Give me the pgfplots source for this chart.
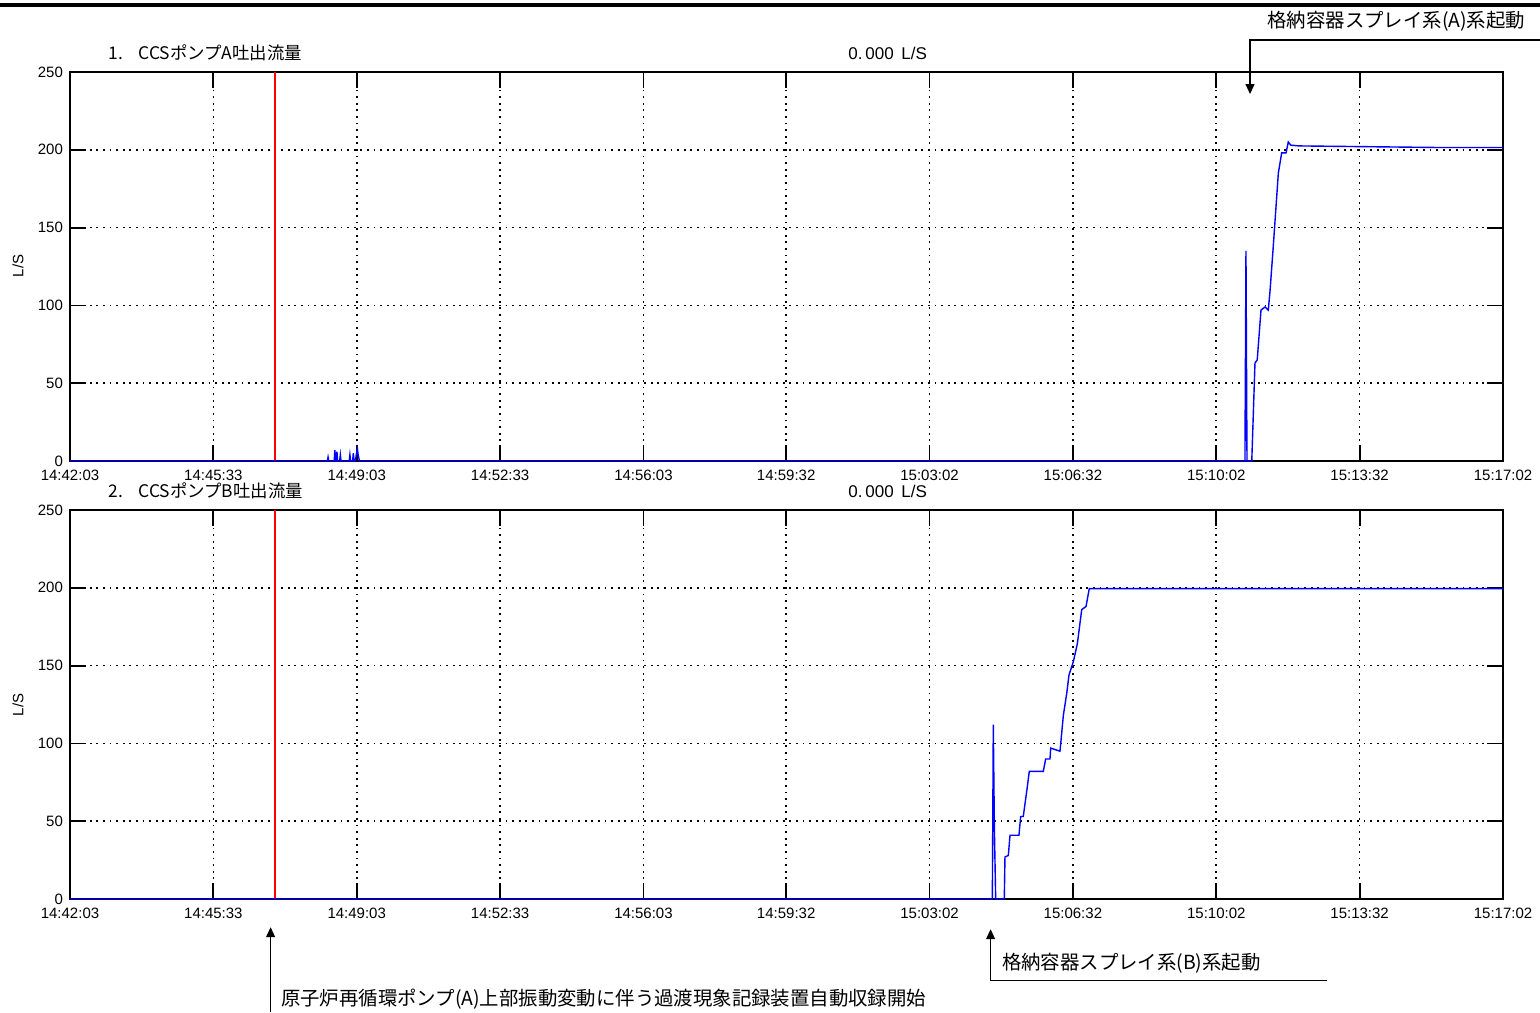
\documentclass[border=0pt]{standalone}
\usepackage{pgfplots}
\pgfplotsset{compat=1.18}
\usepackage{fontspec}
\setmainfont{Liberation Sans}
\newfontfamily\jp{Noto Sans CJK JP}
\usetikzlibrary{arrows.meta}

% time axis: seconds after 14:42:03
\pgfplotsset{
  flowaxis/.style={
    scale only axis, width=716.5pt, height=194.5pt,
    anchor=south west,
    xmin=0, xmax=2099, ymin=0, ymax=250,
    xtick={0,210,420,630,840,1049,1259,1469,1679,1889,2099},
    xticklabels={14:42:03,14:45:33,14:49:03,14:52:33,14:56:03,14:59:32,15:03:02,15:06:32,15:10:02,15:13:32,15:17:02},
    ytick={0,50,100,150,200,250},
    tick align=inside, major tick length=8pt,
    grid=major,
    major grid style={black, line width=0.85pt, dash pattern=on 0.9pt off 2.4pt},
    axis line style={line width=0.9pt},
    tick style={black, line width=0.9pt},
    tick label style={font=\fontsize{7.5}{8}\selectfont},
    xticklabel style={yshift=-1.2pt},
    /pgf/number format/assume math mode=true,
    clip=false,
  }
}

\begin{document}
\begin{tikzpicture}
\useasboundingbox (0,0) rectangle (770pt,-506pt);

% ---- 1. pump A
\begin{axis}[flowaxis, at={(35pt,-230.5pt)}]
\addplot[red, line width=0.7pt] coordinates {(300,0)(300,250)};
\addplot[blue, line width=0.7pt] coordinates {
 (0,0)(377,0)(378,2.5)(379,0)(387,0)(388,7)(389,0)(390,0)(391,6)(392,0)
 (395,0)(396,4)(397,0)(409,0)(410,4)(411,0)(414,0)(415,5)(416,0)
 (418,0)(419,3)(420,6)(421,8)(422,4)(423,2)(424,0)
 (1721,0)(1722.5,135)(1724,0)(1731,0)(1735.7,63)(1739,65)(1744.5,97)
 (1750.4,99)(1755.2,97)(1757.7,109)(1762.5,138)(1769.9,185)(1774.8,198)
 (1781.2,198)(1784.5,205)(1788,203)(1800,202.5)(1900,202)(2000,201.5)
 (2080,201.5)(2099,201.5)
};
\end{axis}

% ---- 2. pump B
\begin{axis}[flowaxis, at={(35pt,-449.5pt)}]
\addplot[red, line width=0.7pt] coordinates {(300,0)(300,250)};
\addplot[blue, line width=0.7pt] coordinates {
 (0,0)(1351,0)(1352.4,112)(1354,45)(1355.9,0)(1368.5,0)(1369.5,27)
 (1374.4,28)(1376.9,41)(1390,41)(1392.5,53)(1396.3,53)(1402.2,72)
 (1405.1,82)(1425.6,82)(1429.1,90)(1435.4,90)(1436.5,97)(1450.1,95)
 (1455,118)(1459.9,132)(1463.3,144)(1469.6,152.5)(1475.5,164)
 (1481.9,186)(1488.2,188)(1493,199.5)(2099,199.5)
};
\end{axis}

% titles and y labels
\tikzset{lbl/.style={anchor=base west, inner sep=0pt}}
\node[lbl, font=\jp\fontsize{8.7}{10}\selectfont] at (54pt,-29.5pt) {1.\hspace{0.9em}CCSポンプA吐出流量};
\node[lbl, font=\fontsize{8.5}{9}\selectfont] at (424pt,-29.5pt) {0.\,000\, L/S};
\node[lbl, font=\jp\fontsize{8.7}{10}\selectfont] at (54pt,-248.5pt) {2.\hspace{0.9em}CCSポンプB吐出流量};
\node[lbl, font=\fontsize{8.5}{9}\selectfont] at (424pt,-248.5pt) {0.\,000\, L/S};
\node[rotate=90, font=\fontsize{7.5}{8}\selectfont] at (9pt,-133pt) {L/S};
\node[rotate=90, font=\fontsize{7.5}{8}\selectfont] at (9pt,-352.5pt) {L/S};

% annotations
\tikzset{ann/.style={anchor=west, inner sep=0pt, font=\jp\fontsize{9.7}{10}\selectfont}}
\draw[line width=1.7pt] (0,-2.5pt) -- (770pt,-2.5pt);
\node[ann] at (633.5pt,-10.8pt) {格納容器スプレイ系(A)系起動};
\draw[line width=0.6pt, -{Triangle[length=5pt,width=4.5pt]}] (770pt,-20pt) -- (625pt,-20pt) -- (625pt,-47pt);

\node[ann] at (500.8pt,-481.6pt) {格納容器スプレイ系(B)系起動};
\draw[line width=0.6pt, -{Triangle[length=5pt,width=4.5pt]}] (663.5pt,-490.3pt) -- (495.3pt,-490.3pt) -- (495.3pt,-464.6pt);

\node[ann] at (140.3pt,-499.5pt) {原子炉再循環ポンプ(A)上部振動変動に伴う過渡現象記録装置自動収録開始};
\draw[line width=0.6pt, -{Triangle[length=5pt,width=4.5pt]}] (135.3pt,-506pt) -- (135.3pt,-463.6pt);
\end{tikzpicture}
\end{document}
